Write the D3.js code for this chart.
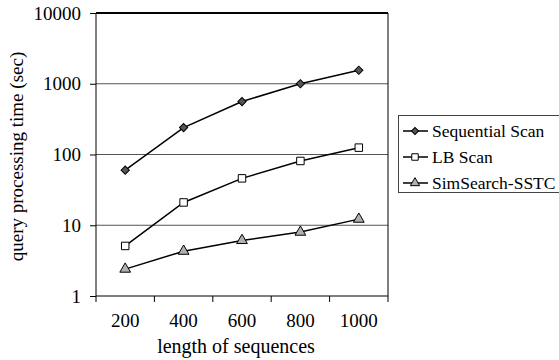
<!DOCTYPE html>
<html>
<head>
<meta charset="utf-8">
<script src="https://cdn.jsdelivr.net/npm/d3@7"></script>
<style>
  body { margin: 0; background: #fff; }
  svg { display: block; font-family: "Liberation Serif", "Times New Roman", serif; }
</style>
</head>
<body>
<div id="chart"></div>
<script>
// Data
const lengths = ['200', '400', '600', '800', '1000'];
const sequentialScan = [60, 240, 560, 1000, 1550];
const lbScan = [5.1, 21, 46, 81, 125];
const simSearch = [2.4, 4.3, 6.1, 8.0, 12.2];
const yTicks = [1, 10, 100, 1000, 10000];

const series = [
  { name: 'Sequential Scan', values: sequentialScan, symbol: d3.symbolSquare, rotate: 45, fill: '#555555', size: 34 },
  { name: 'LB Scan', values: lbScan, symbol: d3.symbolSquare, rotate: 0, fill: '#ffffff', size: 56 },
  { name: 'SimSearch-SSTC', values: simSearch, symbol: d3.symbolTriangle, rotate: 0, fill: '#b0b0b0', size: 50 }
];

const W = 559, H = 360;
const margin = { top: 13, right: 171, bottom: 64, left: 96 };
const width = W - margin.left - margin.right;
const height = H - margin.top - margin.bottom;

const svg = d3.select('#chart').append('svg')
  .attr('width', W).attr('height', H);
const g = svg.append('g').attr('transform', `translate(${margin.left},${margin.top})`);

const x = d3.scaleBand().domain(lengths).range([0, width]);
const y = d3.scaleLog().domain([1, 10000]).range([height, 0]);

// Gridlines
g.selectAll('.grid').data(yTicks.slice(1, 4)).enter().append('line')
  .attr('x1', 0).attr('x2', width)
  .attr('y1', d => y(d)).attr('y2', d => y(d))
  .style('stroke', '#555').style('stroke-width', 1);

// Top border (thick) and right border
g.append('line').attr('x1', 0).attr('x2', width).attr('y1', 0).attr('y2', 0)
  .style('stroke', '#000').style('stroke-width', 2);
g.append('line').attr('x1', width).attr('x2', width).attr('y1', 0).attr('y2', height)
  .style('stroke', '#000').style('stroke-width', 1);

// Y axis
const yAxis = d3.axisLeft(y).tickValues(yTicks).tickFormat(d3.format('d')).tickSize(6).tickPadding(9);
const yg = g.append('g').call(yAxis);
yg.select('.domain').style('stroke', '#000').attr('d', `M0,${height}V0`);
yg.selectAll('.tick line').style('stroke', '#000');
yg.selectAll('.tick text').style('font-size', '19px').style('fill', '#000')
  .style('font-family', '"Liberation Serif", serif');

// X axis: ticks at band boundaries, labels at centres
const xg = g.append('g').attr('transform', `translate(0,${height})`);
xg.append('line').attr('x1', 0).attr('x2', width).style('stroke', '#000');
const bounds = lengths.map(d => x(d)).concat([width]);
xg.selectAll('.xt').data(bounds).enter().append('line')
  .attr('x1', d => d).attr('x2', d => d).attr('y1', 0).attr('y2', 6)
  .style('stroke', '#000');
xg.selectAll('.xl').data(lengths).enter().append('text')
  .attr('x', d => x(d) + x.bandwidth() / 2)
  .attr('y', 31)
  .attr('text-anchor', 'middle')
  .style('font-size', '19px')
  .text(d => d);

// Axis titles
svg.append('text')
  .attr('transform', `translate(23,${margin.top + height / 2 + 2}) rotate(-90)`)
  .attr('text-anchor', 'middle')
  .style('font-size', '19px')
  .text('query processing time (sec)');
svg.append('text')
  .attr('x', 236)
  .attr('y', 353)
  .attr('text-anchor', 'middle')
  .style('font-size', '20px')
  .text('length of sequences');

// Lines and markers
const line = d3.line()
  .x((d, i) => x(lengths[i]) + x.bandwidth() / 2)
  .y(d => y(d));

series.forEach(s => {
  g.append('path').datum(s.values)
    .attr('d', line)
    .style('fill', 'none').style('stroke', '#000').style('stroke-width', 1.5);
  g.selectAll(null).data(s.values).enter().append('path')
    .attr('d', d3.symbol().type(s.symbol).size(s.size))
    .attr('transform', (d, i) => `translate(${x(lengths[i]) + x.bandwidth() / 2},${y(d)}) rotate(${s.rotate})`)
    .style('fill', s.fill).style('stroke', '#000').style('stroke-width', 1);
});

// Legend (box runs off the right edge, as in the original)
const lg = svg.append('g').attr('transform', 'translate(398,115)');
lg.append('rect').attr('x', 0.5).attr('y', 0.5).attr('width', 200).attr('height', 77)
  .style('fill', '#fff').style('stroke', '#444').style('stroke-width', 1);
series.forEach((s, i) => {
  const row = lg.append('g').attr('transform', `translate(0,${16 + i * 26})`);
  row.append('line').attr('x1', 5).attr('x2', 30).attr('y1', 0).attr('y2', 0)
    .style('stroke', '#000').style('stroke-width', 1.5);
  row.append('path').attr('d', d3.symbol().type(s.symbol).size(s.size * 0.75))
    .attr('transform', `translate(17,0) rotate(${s.rotate})`)
    .style('fill', s.fill).style('stroke', '#000');
  row.append('text').attr('x', 34).attr('y', 6)
    .style('font-size', '17.5px')
    .text(s.name);
});
</script>
</body>
</html>
